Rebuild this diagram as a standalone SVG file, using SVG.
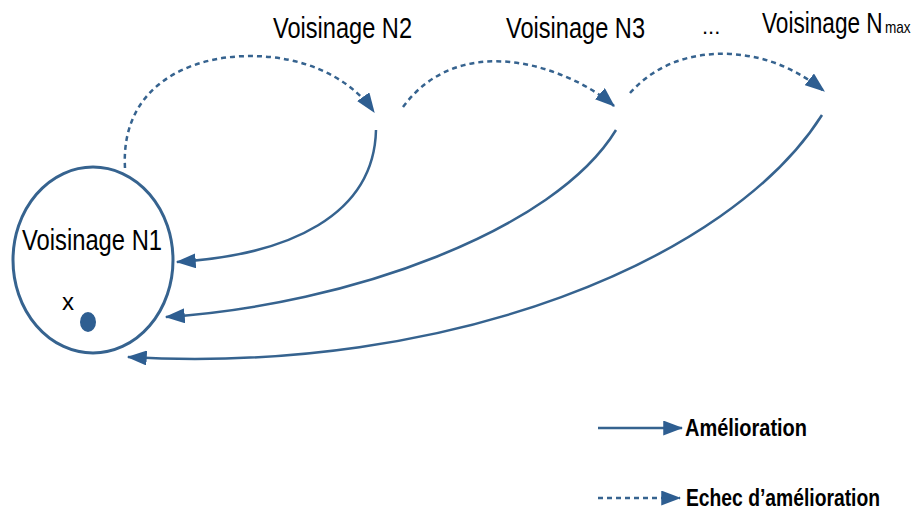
<svg xmlns="http://www.w3.org/2000/svg" width="919" height="512" viewBox="0 0 919 512">
<defs>
<style>
.lbl{font-family:"Liberation Sans",Arial,sans-serif;fill:#000}
.sol{fill:none;stroke:#36638f;stroke-width:2.5}
.dsh{fill:none;stroke:#36638f;stroke-width:2.5;stroke-dasharray:5 4}
.leg{font-family:"Liberation Sans",Arial,sans-serif;font-weight:bold;fill:#000}
</style>
<marker id="ah" markerWidth="8" markerHeight="6" refX="7.5" refY="3" orient="auto" markerUnits="strokeWidth">
<path d="M0,0 L8,3 L0,6 Z" fill="#2e5e91"/>
</marker>
</defs>
<rect width="919" height="512" fill="#fff"/>
<g id="n1">
<ellipse cx="93" cy="260" rx="80" ry="93" fill="none" stroke="#36638f" stroke-width="3"/>
<text class="lbl" x="22" y="250" font-size="30" textLength="140" lengthAdjust="spacingAndGlyphs">Voisinage N1</text>
<text class="lbl" x="62" y="310" font-size="24" textLength="12" lengthAdjust="spacingAndGlyphs">x</text>
<ellipse cx="88" cy="322" rx="8" ry="10" fill="#2e5e91"/>
</g>
<g id="n2">
<text class="lbl" x="273" y="38" font-size="29" textLength="139" lengthAdjust="spacingAndGlyphs">Voisinage N2</text>
</g>
<g id="n3">
<text class="lbl" x="506" y="38" font-size="29" textLength="139" lengthAdjust="spacingAndGlyphs">Voisinage N3</text>
</g>
<g id="dots">
<text class="lbl" x="702" y="34" font-size="22">...</text>
</g>
<g id="nmax">
<text class="lbl" transform="translate(762,33) scale(0.78,1)" x="0" y="0" font-size="29">Voisinage N</text>
<text class="lbl" transform="translate(885,33) scale(0.85,1)" x="0" y="0" font-size="16">max</text>
</g>
<g id="connectors">
<path class="dsh" d="M125,168 C120,80 200,50 270,57 C320,62 355,85 374,112" marker-end="url(#ah)"/>
<path class="dsh" d="M403,107 C430,70 470,58 510,62 C550,66 590,85 614,106" marker-end="url(#ah)"/>
<path class="dsh" d="M630,93 C655,65 690,52 730,54 C770,56 800,72 824,91" marker-end="url(#ah)"/>
<path class="sol" d="M376,130 C374,215 290,255 177,262" marker-end="url(#ah)"/>
<path class="sol" d="M616,130 C555,230 350,305 166,317" marker-end="url(#ah)"/>
<path class="sol" d="M822,115 C730,260 450,375 128,357" marker-end="url(#ah)"/>
</g>
<g id="legend">
<path class="sol" d="M598,428 L682,428" marker-end="url(#ah)"/>
<text class="leg" x="685" y="436" font-size="23" textLength="122" lengthAdjust="spacingAndGlyphs">Amélioration</text>
<path class="dsh" d="M598,498 L680,498" marker-end="url(#ah)"/>
<text class="leg" x="686" y="506" font-size="23" textLength="194" lengthAdjust="spacingAndGlyphs">Echec d’amélioration</text>
</g>
</svg>
